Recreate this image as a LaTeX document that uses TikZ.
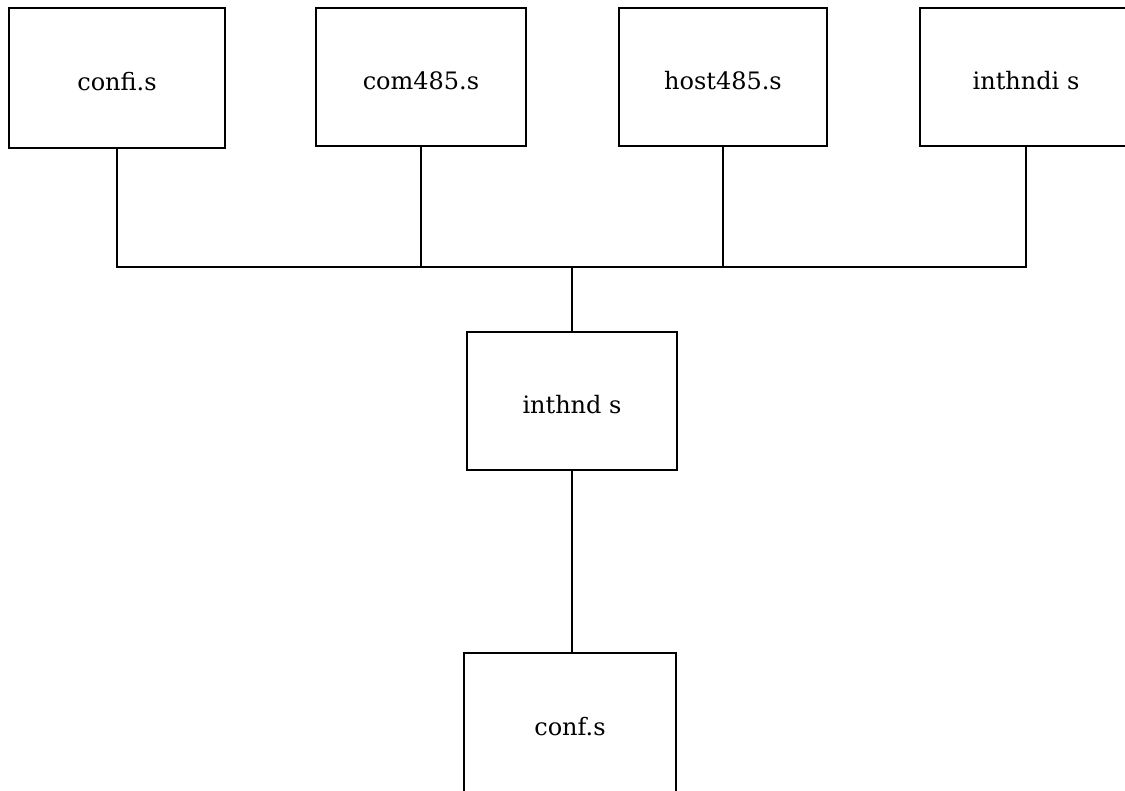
\documentclass[tikz,border=0pt]{standalone}
\usepackage{fontspec}
\setmainfont{DejaVu Serif}
\begin{document}
\begin{tikzpicture}[x=0.75pt,y=-0.75pt,
  box/.style={draw, line width=1.6pt, inner sep=0pt, align=center,
    minimum width=159pt, minimum height=104pt,
    text height=21pt, text depth=3pt,
    font=\fontsize{18}{20}\selectfont},
  link/.style={line width=1.6pt}]
\useasboundingbox (0,0) rectangle (1125,790);

% top row of source files
\node[box, minimum width=162pt, minimum height=105pt] (confi)   at (117,78)  {confi.s};
\node[box, minimum width=158pt]                       (com)     at (421,77)  {com485.s};
\node[box, minimum width=156pt]                       (host)    at (723,77)  {host485.s};
\node[box]                                            (inthndi) at (1026,77) {inthndi s};

% middle and bottom files
\node[box, minimum width=157.5pt]                     (inthnd)  at (572,401) {inthnd s};
\node[box, minimum width=159pt, minimum height=105pt] (conf)    at (570,723) {conf.s};

% common bus joining the top row
\coordinate (bus) at (572,267);
\draw[link] (confi.south) -- (confi.south |- bus) -- (inthndi.south |- bus) -- (inthndi.south);
\draw[link] (com.south) -- (com.south |- bus);
\draw[link] (host.south) -- (host.south |- bus);
\draw[link] (bus) -- (inthnd.north);
\draw[link] (inthnd.south) -- (inthnd.south |- conf.north);
\end{tikzpicture}
\end{document}
